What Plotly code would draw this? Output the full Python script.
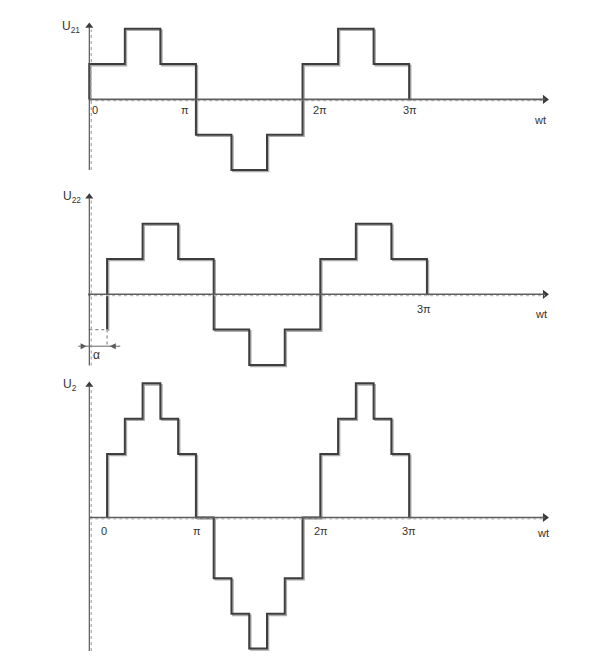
import plotly.graph_objects as go

# ---------------- data (t in units of pi/6, values in signal units) ----------------
u21_edges = [0, 0, 2, 4, 6, 8, 10, 12, 14, 16, 18]
u21_levels = [0, 1, 2, 1, -1, -2, -1, 1, 2, 1, 0]

alpha = 1
u22_prev_level = -1
u22_edges = [1, 1, 3, 5, 7, 9, 11, 13, 15, 17, 19]
u22_levels = [-1, 1, 2, 1, -1, -2, -1, 1, 2, 1, 0]

u2_edges = [1, 1, 2, 3, 4, 5, 6, 7, 8, 9, 10, 11, 12, 13, 14, 15, 16, 17, 18]
u2_levels = [0, 1.8, 2.8, 3.8, 2.8, 1.8, 0, -1.72, -2.73, -3.71, -2.73, -1.72, 0,
             1.8, 2.8, 3.8, 2.8, 1.8, 0]

tick_pos_top = [0, 6, 12, 18]
tick_text_top = ["0", "π", "2π", "3π"]
tick_pos_mid = [19]
tick_text_mid = ["3π"]
tick_pos_bot = [1, 6, 13, 18]
tick_text_bot = ["0", "π", "2π", "3π"]

axis_title_x = "wt"
panel_titles = ["U<sub>21</sub>", "U<sub>22</sub>", "U<sub>2</sub>"]

# ---------------- geometry / style (pixels inside the figure; page has 8px body margin) --
W, H = 610, 664
OFF = 8
X0, PX, U = 89.3 - OFF, 17.77, 35.3
BASES = [99.4 - OFF, 294.3 - OFF, 517.5 - OFF]
SH = 1.5
LINE = "#3d3d3d"
SHADOW = "#ababab"
AXC = "#4a4a4a"
TXT = "#333333"
FONT = "Liberation Sans"


def xr(shift=0.0):
    return [-(X0 + shift) / PX, (W - X0 - shift) / PX]


def yr(yb):
    return [(yb - H) / U, yb / U]


fig = go.Figure()

main_y = ["y4", "y5", "y6"]
shadow_y = ["y", "y2", "y3"]
series = [(u21_edges, u21_levels), (u22_edges, u22_levels), (u2_edges, u2_levels)]

for (xs, ys), sy in zip(series, shadow_y):
    fig.add_trace(go.Scatter(x=xs, y=ys, xaxis="x", yaxis=sy, mode="lines",
                             line=dict(color=SHADOW, width=1.6, shape="hv"),
                             hoverinfo="skip", showlegend=False))

shapes = []
annotations = []

# axes: (yref, y bottom, y arrow centre, x start, x arrow centre)
axes_ext = [("y4", -2.0, 2.08, 0.0, 25.64),
            ("y5", -2.02, 2.76, -0.07, 25.64),
            ("y6", -3.78, 3.75, 0.0, 25.64)]
for yref, yb0, yt, xs0, xe in axes_ext:
    shapes.append(dict(type="line", xref="x2", yref=yref, xsizemode="pixel", xanchor=0,
                       x0=2, x1=2, y0=yb0, y1=yt - 0.1,
                       line=dict(color="#b5b5b5", width=1.4, dash="dot")))
    shapes.append(dict(type="line", xref="x2", yref=yref, ysizemode="pixel", yanchor=0,
                       x0=xs0, x1=xe, y0=-1.3, y1=-1.3,
                       line=dict(color="#bdbdbd", width=1.2, dash="dot")))
    shapes.append(dict(type="line", xref="x2", yref=yref, x0=0, x1=0, y0=yb0, y1=yt,
                       line=dict(color=AXC, width=1.1)))
    shapes.append(dict(type="line", xref="x2", yref=yref, x0=xs0, x1=xe, y0=0, y1=0,
                       line=dict(color="#5e5e5e", width=1.6)))

for (xs, ys), my in zip(series, main_y):
    fig.add_trace(go.Scatter(x=xs, y=ys, xaxis="x2", yaxis=my, mode="lines",
                             line=dict(color=LINE, width=2, shape="hv"),
                             hoverinfo="skip", showlegend=False))

# previous-cycle dotted segment of U22
fig.add_trace(go.Scatter(x=[0, alpha], y=[u22_prev_level, u22_prev_level],
                         xaxis="x2", yaxis="y5", mode="lines",
                         line=dict(color="#8a8a8a", width=1.2, dash="dot"),
                         hoverinfo="skip", showlegend=False))

# arrow heads of axes
for yref, yb0, yt, xs0, xe in axes_ext:
    fig.add_trace(go.Scatter(x=[0], y=[yt], xaxis="x2", yaxis=yref, mode="markers",
                             marker=dict(symbol="triangle-up", size=7, color="#3a3a3a"),
                             hoverinfo="skip", showlegend=False))
    fig.add_trace(go.Scatter(x=[xe], y=[0], xaxis="x2", yaxis=yref, mode="markers",
                             marker=dict(symbol="triangle-right", size=8, color="#3a3a3a"),
                             hoverinfo="skip", showlegend=False))

# tick labels
tick_sets = [
    ("y4", tick_pos_top, tick_text_top, [6, -11, 17, 1], -10.5),
    ("y5", tick_pos_mid, tick_text_mid, [-3], -15),
    ("y6", tick_pos_bot, tick_text_bot, [-3, 1, 1, 0], -13.5),
]
for yref, pos, txt, shifts, ysh in tick_sets:
    for p, t, s in zip(pos, txt, shifts):
        annotations.append(dict(x=p, y=0, xref="x2", yref=yref, text=t, showarrow=False,
                                xanchor="center", yanchor="middle", xshift=s, yshift=ysh,
                                font=dict(family=FONT, size=11, color=TXT)))

# wt labels
for yref, s, ysh in [("y4", -5, -20.5), ("y5", -4, -20), ("y6", -2, -15.5)]:
    annotations.append(dict(x=25.64, y=0, xref="x2", yref=yref, text=axis_title_x,
                            showarrow=False, xanchor="center", yanchor="middle",
                            xshift=s, yshift=ysh,
                            font=dict(family=FONT, size=11, color=TXT)))

# panel titles
for (yref, yb0, yt, xs0, xe), title, xs, ys in zip(axes_ext, panel_titles,
                                                   [-7, -6, -10], [-1, 0, 0]):
    annotations.append(dict(x=0, y=yt, xref="x2", yref=yref, text=title, showarrow=False,
                            xanchor="right", yanchor="middle", xshift=xs, yshift=ys,
                            font=dict(family=FONT, size=12, color=TXT)))

# alpha marker
a_y = -1.47
shapes.append(dict(type="line", xref="x2", yref="y5", x0=alpha, x1=alpha,
                   y0=u22_prev_level, y1=a_y, line=dict(color="#8a8a8a", width=1.2, dash="dot")))
shapes.append(dict(type="line", xref="x2", yref="y5", x0=-0.62, x1=1.74,
                   y0=a_y, y1=a_y, line=dict(color="#666666", width=1)))
fig.add_trace(go.Scatter(x=[-0.15, alpha + 0.15], y=[a_y, a_y], xaxis="x2", yaxis="y5",
                         mode="markers",
                         marker=dict(symbol=["arrow-right", "arrow-left"], size=6,
                                     color="#555555"),
                         hoverinfo="skip", showlegend=False))
annotations.append(dict(x=0, y=a_y, xref="x2", yref="y5", text="α", showarrow=False,
                        xanchor="center", yanchor="middle", xshift=7, yshift=-9,
                        font=dict(family=FONT, size=12, color=TXT)))

layout = dict(
    width=W, height=H, margin=dict(l=0, r=0, t=0, b=0),
    paper_bgcolor="white", plot_bgcolor="white", showlegend=False,
    xaxis=dict(range=xr(SH), visible=False, fixedrange=True),
    xaxis2=dict(range=xr(0), visible=False, overlaying="x", fixedrange=True),
    yaxis=dict(range=yr(BASES[0] + SH), visible=False, fixedrange=True),
    yaxis2=dict(range=yr(BASES[1] + SH), visible=False, overlaying="y", fixedrange=True),
    yaxis3=dict(range=yr(BASES[2] + SH), visible=False, overlaying="y", fixedrange=True),
    yaxis4=dict(range=yr(BASES[0]), visible=False, overlaying="y", fixedrange=True),
    yaxis5=dict(range=yr(BASES[1]), visible=False, overlaying="y", fixedrange=True),
    yaxis6=dict(range=yr(BASES[2]), visible=False, overlaying="y", fixedrange=True),
    annotations=annotations, shapes=shapes,
)
fig.update_layout(**layout)
fig.write_html("out.html")
